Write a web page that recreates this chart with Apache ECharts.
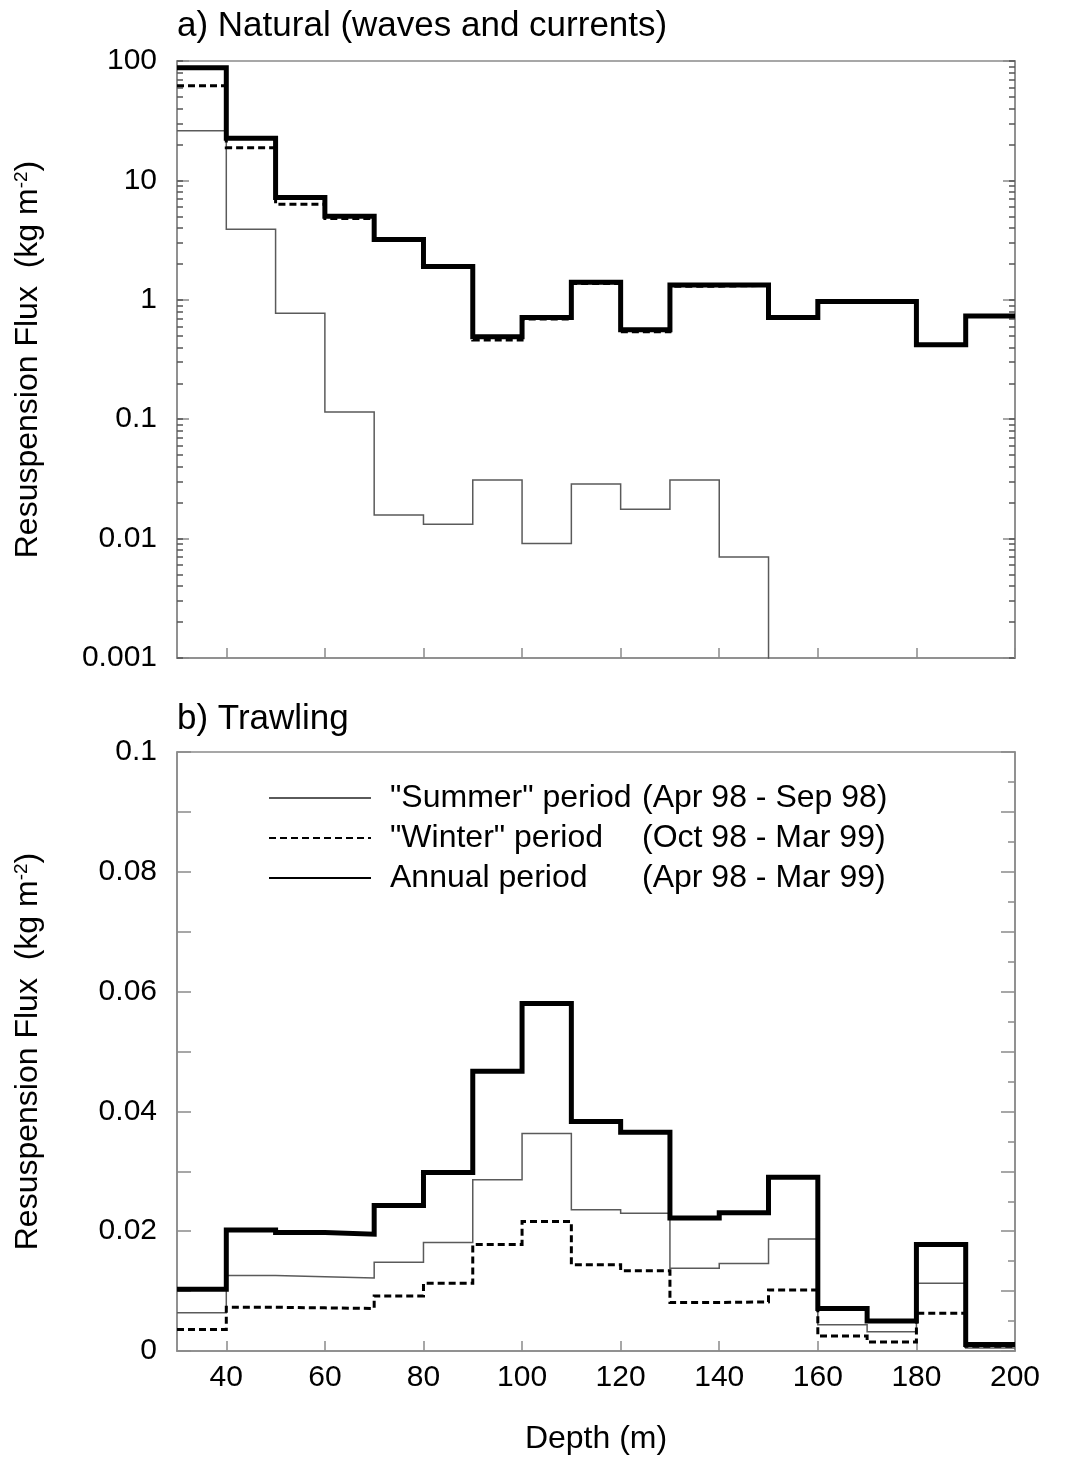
<!DOCTYPE html>
<html>
<head>
<meta charset="utf-8">
<script src="https://cdn.jsdelivr.net/npm/echarts@6/dist/echarts.min.js"></script>
<style>
  html, body { margin: 0; padding: 0; background: #fff; }
  #chart { width: 1065px; height: 1457px; }
</style>
</head>
<body>
<div id="chart"></div>
<script>
// bin edges (m) — each value covers [edge i, edge i+1)
const depthEdges = [30, 40, 50, 60, 70, 80, 90, 100, 110, 120, 130, 140, 150, 160, 170, 180, 190, 200];

// a) natural resuspension, kg m-2 (log panel)
const naturalSummer = [26, 3.9, 0.77, 0.115, 0.0158, 0.0132, 0.031, 0.0091, 0.0286, 0.0176, 0.031, 0.0070, 0, 0, 0, 0, 0];
const naturalWinter = [62, 18.8, 6.3, 4.8, 3.18, 1.89, 0.46, 0.69, 1.37, 0.54, 1.30, 1.32, 0.71, 0.97, 0.97, 0.42, 0.73];
const naturalAnnual = [88, 22.5, 7.2, 5.0, 3.2, 1.9, 0.49, 0.71, 1.40, 0.56, 1.33, 1.33, 0.71, 0.97, 0.97, 0.42, 0.73];

// b) trawling resuspension, kg m-2
const trawlSummer = [0.0064, 0.0126, 0.0124, 0.0122, 0.0148, 0.0181, 0.0286, 0.0363, 0.0236, 0.0230, 0.0138, 0.0146, 0.0187, 0.0044, 0.0032, 0.0113, 0.0005];
const trawlWinter = [0.0036, 0.0073, 0.0072, 0.0071, 0.0092, 0.0113, 0.0178, 0.0216, 0.0144, 0.0134, 0.0081, 0.0082, 0.0102, 0.0025, 0.0015, 0.0063, 0.0008];
const trawlAnnual = [0.0103, 0.0202, 0.0198, 0.0195, 0.0243, 0.0298, 0.0467, 0.0580, 0.0383, 0.0365, 0.0222, 0.0231, 0.0290, 0.0071, 0.0050, 0.0178, 0.0011];

const depthTicks = [40, 60, 80, 100, 120, 140, 160, 180, 200];
const logDecades = [0.001, 0.01, 0.1, 1, 10, 100];

const seriesNames = ['"Summer" period', '"Winter" period', 'Annual period'];
const seriesPeriods = ['(Apr 98 - Sep 98)', '(Oct 98 - Mar 99)', '(Apr 98 - Mar 99)'];

const FONT = "'Liberation Sans', Arial, sans-serif";
const AXIS_GREY = '#8a8a8a';

// minor log ticks 2..9 in every decade
const logMinor = [];
logDecades.slice(0, -1).forEach((d) => {
  for (let k = 1; k <= 9; k++) logMinor.push(+(d * k).toPrecision(3));
});
logMinor.push(100);

// step points: one point per edge, last value repeated at the closing edge
function steps(vals, zeroAs) {
  return depthEdges.map((x, i) => {
    let v = vals[Math.min(i, vals.length - 1)];
    if (zeroAs != null && v <= 0) v = zeroAs;
    return [x, v];
  });
}

const STYLES = [
  { color: '#5a5a5a', width: 1.5, type: 'solid' },
  { color: '#000', width: 3, type: [7, 4] },
  { color: '#000', width: 5, type: 'solid' },
];

function lineSeries(name, data, idx, gridIdx) {
  const s = STYLES[idx];
  return {
    name,
    type: 'line',
    xAxisIndex: gridIdx,
    yAxisIndex: gridIdx === 0 ? 0 : 4,
    step: 'end',
    symbol: 'none',
    clip: true,
    data,
    z: 3 + idx,
    lineStyle: { color: s.color, width: s.width, type: s.type, cap: 'butt', join: 'miter' },
    itemStyle: { color: s.color },
    emphasis: { disabled: true },
  };
}

const chart = echarts.init(document.getElementById('chart'), null, { renderer: 'canvas' });

const yName = 'Resuspension Flux  (kg m{sup|-2})';
const yNameStyle = {
  fontSize: 32, color: '#000', fontFamily: FONT,
  rich: { sup: { fontSize: 19, verticalAlign: 'top', fontFamily: FONT, padding: [0, 0, 12, 0] } },
};

function logAxis(position, opts) {
  return Object.assign({
    type: 'log', logBase: 10, gridIndex: 0, min: 0.001, max: 100, position,
    axisLine: { show: true, lineStyle: { color: AXIS_GREY, width: 1.5 } },
    axisLabel: { show: false },
    splitLine: { show: false },
  }, opts);
}

chart.setOption({
  backgroundColor: '#fff',
  animation: false,
  textStyle: { fontFamily: FONT },
  title: [
    { text: 'a) Natural (waves and currents)', left: 172, top: 4, textStyle: { fontSize: 35, fontWeight: 'normal', color: '#000', fontFamily: FONT } },
    { text: 'b) Trawling', left: 172, top: 697, textStyle: { fontSize: 35, fontWeight: 'normal', color: '#000', fontFamily: FONT } },
  ],
  legend: {
    data: seriesNames,
    orient: 'vertical',
    left: 263,
    top: 777,
    itemWidth: 102,
    itemHeight: 14,
    itemGap: 8,
    selectedMode: false,
    itemStyle: { opacity: 0, borderWidth: 0 },
    formatter: (name) => `{a|${name}}{b|${seriesPeriods[seriesNames.indexOf(name)]}}`,
    textStyle: {
      fontSize: 32, color: '#000', fontFamily: FONT, padding: [0, 0, 0, 14],
      rich: {
        a: { fontSize: 32, color: '#000', fontFamily: FONT, width: 252 },
        b: { fontSize: 32, color: '#000', fontFamily: FONT },
      },
    },
  },
  grid: [
    { left: 177, right: 50, top: 61, height: 597, show: true, borderColor: AXIS_GREY, borderWidth: 1.5 },
    { left: 177, right: 50, top: 752, bottom: 106, show: true, borderColor: AXIS_GREY, borderWidth: 1.5 },
  ],
  xAxis: [
    {
      type: 'value', gridIndex: 0, min: 30, max: 200,
      axisLine: { show: true, lineStyle: { color: AXIS_GREY, width: 1.5 } },
      axisTick: { show: true, inside: true, length: 10, customValues: depthTicks, lineStyle: { color: AXIS_GREY, width: 1.5 } },
      axisLabel: { show: false },
      splitLine: { show: false },
    },
    {
      type: 'value', gridIndex: 1, min: 30, max: 200,
      name: 'Depth (m)', nameLocation: 'middle', nameGap: 72,
      nameTextStyle: { fontSize: 32, color: '#000', fontFamily: FONT },
      axisLine: { show: true, lineStyle: { color: AXIS_GREY, width: 1.5 } },
      axisTick: { show: true, inside: true, length: 10, customValues: depthTicks, lineStyle: { color: AXIS_GREY, width: 1.5 } },
      axisLabel: { show: true, customValues: depthTicks, fontSize: 30, color: '#000', margin: 12, fontFamily: FONT },
      splitLine: { show: false },
    },
  ],
  yAxis: [
    logAxis('left', {
      name: yName, nameLocation: 'middle', nameGap: 133, nameTextStyle: yNameStyle,
      axisTick: { show: true, inside: true, length: 12, lineStyle: { color: AXIS_GREY, width: 1.5 } },
      axisLabel: {
        show: true, fontSize: 30, color: '#000', margin: 20, fontFamily: FONT,
        formatter: (v) => String(+v.toPrecision(3)),
      },
    }),
    logAxis('left', {
      axisLine: { show: false },
      axisTick: { show: true, inside: true, length: 6, customValues: logMinor, lineStyle: { color: '#555', width: 1.5 } },
    }),
    logAxis('right', {
      axisTick: { show: true, inside: true, length: 12, lineStyle: { color: AXIS_GREY, width: 1.5 } },
    }),
    logAxis('right', {
      axisLine: { show: false },
      axisTick: { show: true, inside: true, length: 6, customValues: logMinor, lineStyle: { color: '#555', width: 1.5 } },
    }),
    {
      type: 'value', gridIndex: 1, min: 0, max: 0.1, interval: 0.02, position: 'left',
      name: yName, nameLocation: 'middle', nameGap: 133, nameTextStyle: yNameStyle,
      axisLine: { show: true, lineStyle: { color: AXIS_GREY, width: 1.5 } },
      axisTick: { show: true, inside: true, length: 14, lineStyle: { color: AXIS_GREY, width: 1.5 } },
      minorTick: { show: true, splitNumber: 2, length: 14, lineStyle: { color: AXIS_GREY, width: 1.5 } },
      axisLabel: { fontSize: 30, color: '#000', margin: 20, fontFamily: FONT },
      splitLine: { show: false },
    },
    {
      type: 'value', gridIndex: 1, min: 0, max: 0.1, interval: 0.01, position: 'right',
      axisLine: { show: true, lineStyle: { color: AXIS_GREY, width: 1.5 } },
      axisTick: { show: true, inside: true, length: 14, lineStyle: { color: AXIS_GREY, width: 1.5 } },
      minorTick: { show: true, splitNumber: 2, length: 7, lineStyle: { color: AXIS_GREY, width: 1.5 } },
      axisLabel: { show: false },
      splitLine: { show: false },
    },
  ],
  series: [
    lineSeries('a-summer', steps(naturalSummer, 1e-6), 0, 0),
    lineSeries('a-winter', steps(naturalWinter), 1, 0),
    lineSeries('a-annual', steps(naturalAnnual), 2, 0),
    lineSeries(seriesNames[0], steps(trawlSummer), 0, 1),
    lineSeries(seriesNames[1], steps(trawlWinter), 1, 1),
    lineSeries(seriesNames[2], steps(trawlAnnual), 2, 1),
  ],
});
</script>
</body>
</html>
